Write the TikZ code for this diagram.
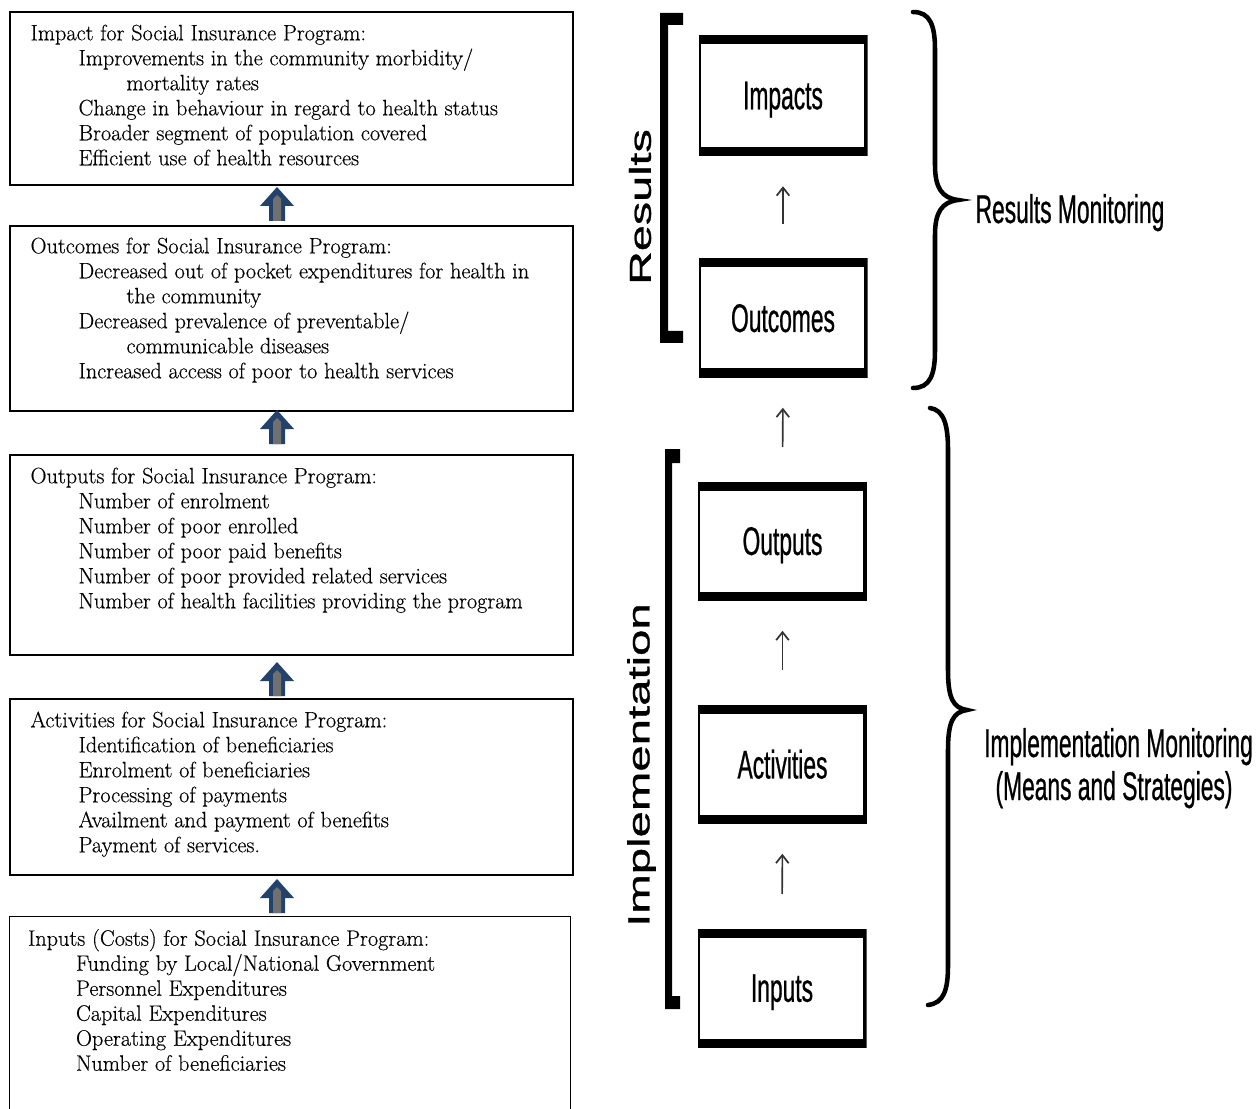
\documentclass[tikz,border=0pt]{standalone}
\usepackage{fontspec}
\usepackage{graphicx}
\usetikzlibrary{calc,arrows.meta}
\newfontfamily\narrowsf[FakeStretch=0.57,FakeBold=0.6]{Liberation Sans}
\newfontfamily\labelsf[FakeBold=0.8]{Liberation Sans}
\newfontfamily\boxrm[FakeBold=0.35]{Latin Modern Roman}
\definecolor{arrownavy}{HTML}{23426B}
\definecolor{arrowgray}{HTML}{707070}
\newcommand\itemind{\hspace*{36pt}}
\newcommand\contind{\hspace*{72pt}}

\begin{document}
\begin{tikzpicture}[x=0.75pt,y=-0.75pt,
  lbox/.style={draw=black, line width=1.1pt, inner sep=0pt, minimum width=422.25pt},
  ltext/.style={anchor=base west, inner sep=0pt,
    font=\boxrm\fontsize{16.7pt}{18.75pt}\selectfont},
  rbox/.style={inner sep=0pt, minimum width=126.75pt, minimum height=89.25pt,
    text depth=0pt,
    font=\narrowsf\fontsize{30pt}{32pt}\selectfont,
    path picture={
      \fill[black] (path picture bounding box.south west) rectangle (path picture bounding box.north east);
      \fill[white] ([xshift=1.5pt,yshift=-6.75pt]path picture bounding box.north west)
        rectangle ([xshift=-3pt,yshift=6.75pt]path picture bounding box.south east);
    }},
  sarrow/.style={draw=black!80, line width=1.2pt,
    -{Straight Barb[length=6pt,width=9.5pt,line width=1.3pt]},
    shorten <=25.5pt, shorten >=22.5pt},
  bracefill/.style={fill=black},
  bigbrace/.style={draw=black, line width=3.4pt, line cap=round},
  monlabel/.style={anchor=base, inner sep=0pt, font=\narrowsf\fontsize{30pt}{32pt}\selectfont},
  sidelabel/.style={rotate=90, inner sep=0pt, font=\labelsf},
  bluearrow/.pic={
    \fill[arrownavy] (0,-17) -- (17,2) -- (8,2) -- (8,17) -- (-8,17) -- (-8,2) -- (-17,2) -- cycle;
    \fill[arrowgray] (-4,17) -- (-4,-5) -- (0,-9) -- (4,-5) -- (4,17) -- cycle;
  }]

\useasboundingbox (0,0) rectangle (1257,1109);
\fill[white] (0,0) rectangle (1257,1109);

% ---------- left column: programme boxes ----------
\node[lbox, minimum height=129.75pt] (impactbox) at (291.5,98.5) {};
\node[lbox, minimum height=138.75pt] (outcomebox) at (291.5,318.5) {};
\node[lbox, minimum height=150pt] (outputbox) at (291.5,555) {};
\node[lbox, minimum height=132pt] (activitybox) at (291.5,787) {};
\node[inner sep=0pt, minimum width=420pt, minimum height=148.5pt] (inputbox) at (290,1016) {};
\draw[line width=1.1pt] (inputbox.south west) -- (inputbox.north west)
  -- (inputbox.north east) -- (inputbox.south east);

\node[ltext] (impacttext) at ($(impactbox.north west)+(21,29)$) {%
  \begin{tabular}[t]{@{}l@{}}
  Impact for Social Insurance Program:\\
  \itemind Improvements in the community morbidity/\\
  \contind mortality rates\\
  \itemind Change in behaviour in regard to health status\\
  \itemind Broader segment of population covered\\
  \itemind Efficient use of health resources
  \end{tabular}};

\node[ltext] (outcometext) at ($(outcomebox.north west)+(21,28)$) {%
  \begin{tabular}[t]{@{}l@{}}
  Outcomes for Social Insurance Program:\\
  \itemind Decreased out of pocket expenditures for health in\\
  \contind the community\\
  \itemind Decreased prevalence of preventable/\\
  \contind communicable diseases\\
  \itemind Increased access of poor to health services
  \end{tabular}};

\node[ltext] (outputtext) at ($(outputbox.north west)+(21,29)$) {%
  \begin{tabular}[t]{@{}l@{}}
  Outputs for Social Insurance Program:\\
  \itemind Number of enrolment\\
  \itemind Number of poor enrolled\\
  \itemind Number of poor paid benefits\\
  \itemind Number of poor provided related services\\
  \itemind Number of health facilities providing the program
  \end{tabular}};

\node[ltext] (activitytext) at ($(activitybox.north west)+(21,29)$) {%
  \begin{tabular}[t]{@{}l@{}}
  Activities for Social Insurance Program:\\
  \itemind Identification of beneficiaries\\
  \itemind Enrolment of beneficiaries\\
  \itemind Processing of payments\\
  \itemind Availment and payment of benefits\\
  \itemind Payment of services.
  \end{tabular}};

\node[ltext] (inputtext) at ($(inputbox.north west)+(18,29)$) {%
  \begin{tabular}[t]{@{}l@{}}
  Inputs (Costs) for Social Insurance Program:\\
  \itemind Funding by Local/National Government\\
  \itemind Personnel Expenditures\\
  \itemind Capital Expenditures\\
  \itemind Operating Expenditures\\
  \itemind Number of beneficiaries
  \end{tabular}};

% block arrows between the left boxes
\pic at (277,204) {bluearrow};
\pic at (277,427) {bluearrow};
\pic at (277,679) {bluearrow};
\pic at (277,896) {bluearrow};

% ---------- right column: results chain ----------
\node[rbox, minimum height=90.75pt] (impacts) at (783,95.5) {Impacts};
\node[rbox] (outcomes) at (783,318) {Outcomes};
\node[rbox] (outputs) at (782.5,541) {Outputs};
\node[rbox] (activities) at (782.5,764) {Activities};
\node[rbox] (inputs) at (782,988) {Inputs};

\draw[sarrow] (outcomes.north) -- (impacts.south);
\draw[sarrow] (outputs.north) -- (outcomes.south);
\draw[sarrow] (activities.north) -- (outputs.south);
\draw[sarrow] (inputs.north) -- (activities.south);

% square brackets with side labels
\fill[bracefill] (683,13) -- (660,13) -- (660,343) -- (683,343) -- (683,331)
  -- (668,331) -- (668,25) -- (683,25) -- cycle;
\fill[bracefill] (680,449) -- (665,449) -- (665,1009) -- (680,1009) -- (680,996)
  -- (672,996) -- (672,463) -- (680,463) -- cycle;
\node[sidelabel] (resultslbl) at (640,207)
  {\scalebox{1}[0.65]{\fontsize{35pt}{35pt}\selectfont Results}};
\node[sidelabel] (impllbl) at (641.5,765)
  {\scalebox{1}[0.65]{\fontsize{35.5pt}{35.5pt}\selectfont Implementation}};

% curly braces with monitoring labels
\draw[bigbrace] (913,12) .. controls (930,12) and (935,25) .. (935,50)
  -- (935,165) .. controls (935,188) and (942,198) .. (958,200)
  .. controls (942,202) and (935,212) .. (935,235)
  -- (935,350) .. controls (935,375) and (930,388) .. (913,388);
\draw[bigbrace] (930,408) .. controls (944,410) and (948,425) .. (948,450)
  -- (948,670) .. controls (948,698) and (953,708) .. (967,710)
  .. controls (953,712) and (948,722) .. (948,750)
  -- (948,965) .. controls (948,990) and (944,1003) .. (928,1005);

\node[monlabel] (resmon) at (1070,223) {Results Monitoring};
\node[monlabel] (implmon) at (1118.5,757) {Implementation Monitoring};
\node[monlabel] (implmeans) at (1114,800) {(Means and Strategies)};

\end{tikzpicture}
\end{document}
